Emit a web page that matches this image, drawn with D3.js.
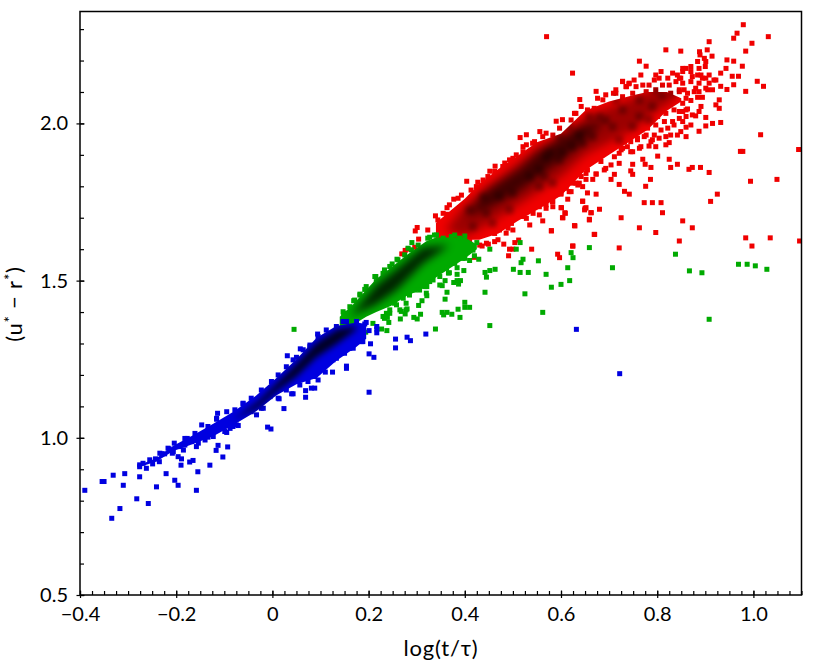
<!DOCTYPE html>
<html>
<head>
<meta charset="utf-8">
<style>
	body { margin: 0; background: #fff; }
	text { font-family: Lato, "Noto Sans", sans-serif; fill: #000; }
</style>
<script src="https://cdn.jsdelivr.net/npm/d3@7"></script>
</head>
<body>
<svg id="chart" width="830" height="664"></svg>
<script>
var xTicks = [-0.4, -0.2, 0, 0.2, 0.4, 0.6, 0.8, 1.0];
var yTicks = [0.5, 1.0, 1.5, 2.0];

var bluePoints = [[-0.390,0.833],[-0.350,0.861],[-0.354,0.861],[-0.331,0.881],[-0.307,0.886],[-0.310,0.849],[-0.334,0.744],[-0.317,0.775],[-0.282,0.806],[-0.258,0.791],[-0.276,0.876],[-0.241,0.844],[-0.221,0.886],[-0.203,0.865],[-0.196,0.849],[-0.158,0.833],[-0.155,0.892],[-0.190,0.913],[-0.172,0.923],[-0.165,0.928],[-0.130,0.913],[-0.103,0.939],[-0.117,0.960],[-0.113,0.976],[-0.093,0.971],[-0.010,1.034],[-0.003,1.028],[0.024,1.093],[0.069,1.129],[0.069,1.150],[0.081,1.158],[0.201,1.145],[0.110,1.209],[0.125,1.209],[0.154,1.221],[0.154,1.228],[0.211,1.256],[0.201,1.267],[0.204,1.299],[0.031,1.261],[0.058,1.283],[0.094,1.330],[0.201,1.341],[0.217,1.354],[0.217,1.334],[0.217,1.346],[0.256,1.314],[0.256,1.286],[0.280,1.320],[0.287,1.309],[0.319,1.330],[0.632,1.345],[0.722,1.204],[-0.276,0.908],[-0.269,0.919],[-0.262,0.903],[-0.249,0.917],[-0.243,0.933],[-0.235,0.924],[-0.230,0.949],[-0.224,0.949],[-0.215,0.965],[-0.208,0.951],[-0.204,0.983],[-0.196,0.940],[-0.189,0.933],[-0.185,0.961],[-0.177,0.998],[-0.158,0.972],[-0.147,1.041],[-0.134,1.002],[-0.123,1.004],[-0.114,1.078],[-0.116,1.059],[-0.095,1.017],[-0.071,1.039],[-0.088,1.030],[-0.061,1.110],[-0.033,1.073],[-0.019,1.094],[0.001,1.173],[0.014,1.124],[0.043,1.140],[0.050,1.256],[0.078,1.290],[0.088,1.158],[0.095,1.184],[0.126,1.248],[0.150,1.269],[0.168,1.285],[0.185,1.306],[0.147,1.370],[0.192,1.362],
	[0.064,1.189],[0.074,1.179],[0.088,1.195],[0.095,1.211],[0.105,1.232],[0.119,1.248],[0.133,1.253],[0.143,1.269],[0.161,1.285],[0.175,1.306],[0.188,1.306],[0.057,1.168],[0.040,1.140],[0.029,1.152],[0.012,1.126],[-0.005,1.131],[-0.023,1.094],[-0.044,1.083],[-0.061,1.078],[-0.075,1.041],[-0.082,1.036],[-0.099,1.020],[-0.113,1.030],[-0.140,0.993],[-0.154,0.983],[-0.168,0.988],[-0.182,0.977],[-0.192,0.972],[-0.206,0.956],
	[-0.276,0.914],[-0.255,0.930],[-0.234,0.951],[-0.217,0.967],[-0.182,0.998],[-0.161,1.014],[-0.134,1.036],[-0.116,1.062],[-0.095,1.083],[-0.078,1.089],[-0.061,1.108],[-0.044,1.126],[-0.023,1.152],[-0.002,1.179],[0.012,1.200],[0.029,1.226],[0.043,1.248],[0.064,1.280],[0.078,1.295],[0.095,1.322],[0.112,1.343],[0.133,1.354],[0.154,1.370],[0.175,1.370],[0.195,1.367]];
var blueBandX = [-0.275,-0.241,-0.206,-0.165,-0.123,-0.082,-0.033,0.0085,0.050,0.092,0.133,0.175,0.195];
var blueBandHigh = [0.915,0.935,0.975,1.008,1.045,1.082,1.135,1.190,1.250,1.318,1.356,1.367,1.362];
var blueBandLow = [0.908,0.925,0.958,0.980,1.005,1.040,1.085,1.135,1.170,1.190,1.245,1.290,1.315];
var blueCoreX = [-0.085,-0.03,0.01,0.05,0.09,0.135,0.175];
var blueCoreHigh = [1.055,1.115,1.175,1.235,1.300,1.345,1.355];
var blueCoreLow = [1.055,1.095,1.150,1.195,1.255,1.300,1.345];

// green
var greenPoints = [[0.290,1.621],[0.425,1.621],[0.515,1.621],[0.452,1.600],[0.507,1.600],[0.429,1.568],[0.410,1.564],[0.521,1.568],[0.517,1.557],[0.553,1.563],[0.659,1.605],[0.621,1.589],[0.625,1.573],[0.614,1.541],[0.384,1.541],[0.398,1.532],[0.463,1.536],[0.452,1.532],[0.442,1.526],[0.445,1.511],[0.501,1.536],[0.515,1.526],[0.532,1.526],[0.569,1.520],[0.618,1.500],[0.600,1.488],[0.580,1.479],[0.384,1.520],[0.368,1.525],[0.359,1.500],[0.384,1.500],[0.391,1.500],[0.377,1.494],[0.387,1.489],[0.353,1.484],[0.363,1.463],[0.442,1.463],[0.525,1.458],[0.359,1.441],[0.321,1.452],[0.311,1.436],[0.304,1.421],[0.400,1.431],[0.400,1.415],[0.410,1.415],[0.386,1.409],[0.353,1.399],[0.363,1.399],[0.356,1.391],[0.373,1.393],[0.390,1.383],[0.562,1.399],[0.452,1.357],[0.339,1.346],[0.308,1.393],[0.294,1.383],[0.301,1.378],[0.266,1.378],[0.276,1.394],[0.280,1.410],[0.242,1.367],[0.238,1.341],[0.227,1.346],[0.194,1.336],[0.239,1.383],[0.045,1.345],[0.707,1.541],[0.838,1.584],[0.867,1.531],[0.893,1.525],[0.969,1.552],[0.987,1.552],[1.004,1.547],[1.028,1.536],[0.908,1.377],[0.215,1.513],[0.233,1.534],[0.249,1.553],[0.259,1.568],[0.282,1.603],[0.327,1.638],[0.341,1.645],[0.379,1.645],[0.400,1.642],[0.182,1.457],[0.192,1.472],[0.169,1.436],[0.148,1.396],[0.420,1.579],[0.348,1.486],[0.334,1.502],[0.321,1.481],[0.278,1.407],[0.268,1.402],[0.254,1.428],[0.244,1.396],[0.233,1.380],[0.320,1.460],[0.296,1.470],[0.366,1.524],[0.396,1.571],
	[0.147,1.401],[0.161,1.417],[0.171,1.438],[0.182,1.454],[0.195,1.481],[0.213,1.513],[0.216,1.497],[0.230,1.523],[0.244,1.545],[0.261,1.566],[0.275,1.582],[0.289,1.598],[0.303,1.613],[0.323,1.635],[0.337,1.645],[0.355,1.635],[0.372,1.640],[0.389,1.635],
	[0.182,1.354],[0.209,1.364],[0.230,1.386],[0.244,1.407],[0.258,1.423],[0.272,1.444],[0.285,1.454],[0.306,1.470],[0.327,1.497],[0.348,1.513],[0.362,1.539],[0.379,1.555],[0.400,1.571],[0.417,1.597],[0.237,1.396],[0.265,1.407],[0.278,1.428],[0.317,1.481]];
var greenBandX = [0.140,0.168,0.195,0.216,0.247,0.278,0.320,0.340,0.400,0.425];
var greenBandHigh = [1.385,1.425,1.470,1.505,1.542,1.580,1.625,1.637,1.637,1.615];
var greenBandLow = [1.352,1.360,1.385,1.400,1.420,1.450,1.480,1.510,1.570,1.600];
var greenCoreX = [0.161,0.216,0.258,0.313,0.368];
var greenCoreHigh = [1.386,1.485,1.535,1.605,1.613];
var greenCoreLow = [1.386,1.425,1.470,1.555,1.613];

// red
var redPoints = [[0.562,1.690],[0.628,1.675],[0.659,1.693],[0.580,1.659],[0.669,1.647],[0.763,1.668],[0.797,1.653],[0.873,1.668],[0.853,1.690],[0.624,1.610],[0.721,1.604],[0.846,1.626],[0.984,1.636],[1.035,1.636],[0.997,1.610],[1.096,1.626],[0.593,1.584],[0.597,1.573],[0.979,2.314],[0.966,2.287],[0.959,2.271],[1.031,2.276],[0.997,2.255],[0.908,2.260],[0.984,2.230],[0.570,2.276],[0.818,2.234],[0.849,2.230],[0.904,2.234],[0.888,2.228],[0.889,2.218],[0.914,2.214],[0.763,2.198],[0.777,2.182],[0.945,2.202],[0.959,2.198],[0.977,2.182],[0.943,2.175],[0.932,2.160],[0.956,2.150],[0.969,2.150],[1.008,2.134],[1.021,2.118],[0.984,2.102],[0.959,2.123],[0.945,2.108],[0.932,2.118],[0.624,2.160],[0.728,2.134],[0.673,2.102],[0.639,2.076],[0.590,2.007],[0.603,2.012],[1.015,1.964],[0.973,1.911],[0.978,1.911],[1.094,1.917],[0.994,1.816],[1.049,1.822],[0.925,1.775],[0.911,1.752],[0.908,1.844],[0.890,1.860],[0.873,1.860],[0.866,1.854],[0.842,1.870],[0.828,1.860],[0.825,1.886],[0.801,1.896],[0.787,1.860],[0.786,1.822],[0.776,1.800],[0.773,1.748],[0.790,1.748],[0.808,1.748],[0.811,1.716],[0.725,1.700],[0.680,1.727],[0.662,1.716],[0.650,1.730],[0.645,1.752],[0.673,1.775],[0.655,1.779],[0.732,1.784],[0.742,1.775],[0.721,1.806],[0.749,1.838],[0.745,1.849],[0.749,1.870],[0.770,1.886],[0.775,1.870],[0.704,1.822],[0.711,1.838],[0.666,1.822],[0.603,1.700],[0.608,1.716],[0.600,1.732],[0.583,1.752],[0.583,1.735],[0.614,1.759],[0.870,2.181],[0.853,2.175],[0.860,2.175],[0.884,2.197],[0.898,2.207],[0.901,2.197],[0.887,2.175],[0.900,2.181],[0.870,2.165],[0.884,2.154],[0.908,2.154],[0.894,2.144],[0.918,2.138],[0.870,2.133],[0.887,2.128],[0.901,2.112],[0.915,2.107],[0.877,2.101],[0.863,2.096],[0.894,2.083],[0.870,2.073],[0.929,2.075],[0.922,2.059],[0.929,2.048],[0.891,2.054],[0.887,2.038],[0.901,2.019],[0.915,2.000],[0.932,2.003],[0.901,1.992],[0.887,1.975],[0.860,1.958],[0.842,1.963],[0.849,1.974],[0.860,1.988],[0.870,1.995],[0.880,2.024],[0.860,2.043],[0.846,2.038],[0.835,2.075],[0.846,2.107],[0.853,2.128],[0.846,2.144],[0.832,2.160],[0.808,2.165],[0.797,2.154],[0.794,2.138],[0.818,1.932],[0.825,1.939],[0.797,1.926],[0.783,1.928],[0.763,1.921],[0.745,1.910],[0.721,1.905],[0.728,1.921],[0.818,1.958],[0.790,1.948],[0.773,1.958],[0.759,1.948],[0.766,2.154],[0.752,2.138],[0.742,2.128],[0.735,2.117],[0.714,2.107],[0.693,2.091],[0.676,2.080],[0.642,2.054],[0.628,2.032],[0.621,2.011],[0.597,1.985],[0.569,1.969],[0.404,1.816],[0.377,1.759],[0.363,1.732],[0.363,1.711],[0.339,1.706],[0.301,1.669],[0.297,1.658],[0.304,1.632],[0.276,1.596],[0.269,1.585],[0.282,1.600],[0.296,1.606],[0.323,1.661],[0.344,1.693],[0.463,1.864],[0.452,1.848],[0.483,1.874],[0.515,1.955],[0.528,1.964],[0.556,1.974],[0.521,1.926],[0.541,1.937],[0.500,1.889],[0.427,1.813],[0.438,1.804],[0.580,1.658],[0.629,1.674],[0.670,1.647],[0.625,1.610],[0.539,1.600],[0.491,1.579],[0.420,1.574],[0.493,1.600],[0.500,1.600],[0.481,1.616],[0.449,1.616],[0.436,1.610],[0.504,1.621],[0.512,1.629],[0.535,1.677],[0.490,1.667],[0.497,1.682],[0.469,1.630],[0.462,1.650],[0.528,1.698],[0.555,1.709],[0.604,1.700],[0.609,1.714],[0.659,1.695],[0.663,1.716],[0.652,1.732],[0.649,1.725],[0.601,1.732],[0.582,1.751],[0.645,1.753],[0.621,1.783],[0.600,1.775],[0.652,1.822],[0.635,1.804],[0.638,1.847],[0.673,1.839],
	[0.728,2.133],[0.741,2.126],[0.736,2.117],[0.756,2.117],[0.714,2.096],[0.709,2.096],[0.687,2.075],[0.728,2.085],[0.749,2.096],[0.770,2.122],[0.783,2.122],[0.804,2.144],[0.822,2.144],[0.842,2.154],[0.849,2.144],[0.839,2.133],[0.825,2.122],[0.811,2.122],[0.797,2.107],[0.777,2.101],[0.763,2.080],[0.742,2.064],[0.728,2.059],[0.707,2.054],[0.687,2.048],[0.669,2.048],[0.655,2.043],[0.631,2.032],[0.680,2.032],[0.700,2.032],[0.725,2.032],[0.749,2.043],[0.777,2.069],[0.794,2.080],[0.811,2.091],[0.828,2.096],[0.846,2.101],[0.856,2.107],[0.860,2.080],[0.853,2.064],[0.839,2.075],[0.822,2.064],[0.804,2.054],[0.787,2.043],[0.770,2.032],[0.752,2.016],[0.735,2.006],[0.714,1.995],[0.697,1.985],[0.801,2.022],[0.818,2.032],[0.835,2.043],[0.853,2.038],[0.863,2.046],[0.860,2.022],[0.873,2.027],[0.846,2.016],[0.832,2.006],[0.815,2.006],[0.797,1.995],[0.780,1.985],[0.763,1.979],[0.742,1.974],[0.725,1.963],[0.707,1.953],[0.759,1.953],[0.777,1.963],[0.794,1.963],[0.808,1.979],[0.822,1.985],[0.835,1.995],[0.853,2.006],[0.828,1.963],[0.804,1.953],[0.787,1.942],[0.766,1.926],[0.749,1.910],[0.738,1.926],[0.725,1.916],[0.711,1.894],[0.721,1.873],[0.704,1.868],[0.690,1.852],[0.673,1.839],[0.655,1.852],[0.642,1.831],[0.645,1.799],[0.631,1.810],[0.617,1.783],[0.600,1.778],[0.576,1.778],[0.562,1.746],[0.569,1.730],[0.693,1.857],[0.683,1.879],[0.718,1.932],[0.732,1.942],[0.745,1.942],[0.887,2.101],[0.884,2.083],[0.908,2.128],[0.873,2.149],[0.853,2.165],[0.905,2.107],[0.880,2.112],[0.891,2.154],[0.901,2.144],[0.922,2.138],
	[0.355,1.714],[0.368,1.741],[0.386,1.762],[0.393,1.772],[0.413,1.788],[0.424,1.799],[0.438,1.820],[0.448,1.831],[0.462,1.847],[0.479,1.863],[0.493,1.884],[0.507,1.900],[0.521,1.910],[0.528,1.932],[0.545,1.942],[0.562,1.958],[0.583,1.963],
	[0.431,1.613],[0.445,1.619],[0.462,1.624],[0.486,1.651],[0.500,1.661],[0.472,1.661],[0.521,1.704],[0.542,1.714],[0.555,1.735],[0.569,1.741],[0.583,1.767],[0.597,1.778],[0.611,1.794],[0.625,1.810],[0.652,1.841],[0.389,1.629],[0.410,1.624],[0.514,1.709],[0.548,1.741],[0.597,1.799],[0.618,1.831],[0.638,1.810]];
var redBandX = [0.340,0.370,0.400,0.430,0.470,0.510,0.550,0.600,0.650,0.700,0.750,0.780,0.820,0.850];
var redBandHigh = [1.683,1.722,1.760,1.807,1.855,1.897,1.940,1.967,2.040,2.070,2.090,2.100,2.100,2.080];
var redBandLow = [1.635,1.630,1.630,1.630,1.650,1.690,1.725,1.770,1.850,1.900,1.950,1.980,2.040,2.070];
var redMidX = [0.36,0.40,0.45,0.50,0.55,0.60,0.65,0.70,0.75,0.80,0.84];
var redMidHigh = [1.66,1.74,1.80,1.86,1.92,1.96,2.02,2.05,2.08,2.11,2.09];
var redMidLow = [1.66,1.64,1.68,1.73,1.78,1.83,1.90,1.94,1.98,2.04,2.08];
var redCoreX = [0.40,0.445,0.514,0.555,0.611,0.640,0.693];
var redCoreHigh = [1.70,1.787,1.855,1.913,1.965,1.990,2.01];
var redCoreLow = [1.70,1.727,1.785,1.833,1.895,1.930,2.01];
// darker blotches inside the red cloud
var redBlotches = [[0.638,1.963],[0.603,1.905],[0.576,1.905],[0.597,1.884],[0.555,1.852],[0.645,1.937],[0.693,2.011],[0.728,2.043],[0.811,2.091],[0.790,2.054],[0.666,1.958],[0.624,1.926],[0.565,1.831],[0.583,1.810],[0.714,2.075],[0.763,2.075],[0.680,2.022],[0.749,1.990],[0.783,2.011],[0.832,2.096],[0.797,2.107],[0.707,1.990],[0.763,2.022],[0.721,1.947],[0.617,1.990],[0.597,1.958],[0.659,2.022],[0.569,1.894],[0.445,1.714],[0.472,1.767],[0.417,1.672],[0.500,1.778],[0.535,1.831],[0.458,1.682],[0.410,1.725],[0.493,1.725],[0.555,1.799],[0.438,1.767]];

var svg = d3.select("#chart");
var left = 80, right = 801.5, top_ = 11.5, bottom = 595;

var x = d3.scaleLinear().domain([-0.4, 1.1]).range([left, right]);
var y = d3.scaleLinear().domain([0.5, 2.356]).range([bottom, top_]);

var defs = svg.append("defs");
defs.append("clipPath").attr("id", "plotClip").append("rect")
	.attr("x", left).attr("y", top_)
	.attr("width", right - left).attr("height", bottom - top_);
[2, 3, 4, 5].forEach(function(s) {
	defs.append("filter").attr("id", "blur" + s)
		.attr("filterUnits", "userSpaceOnUse")
		.attr("x", 0).attr("y", 0).attr("width", 830).attr("height", 664)
		.append("feGaussianBlur").attr("stdDeviation", s);
});

var plot = svg.append("g").attr("clip-path", "url(#plotClip)");

function band(g, xs, highs, lows) {
	var area = d3.area()
		.x(function(d) { return x(d); })
		.y0(function(d, i) { return y(lows[i]); })
		.y1(function(d, i) { return y(highs[i]); });
	return g.append("path").datum(xs).attr("d", area);
}

function squares(g, pts, size) {
	return g.selectAll("rect").data(pts).enter().append("rect")
		.attr("x", function(d) { return x(d[0]) - size / 2; })
		.attr("y", function(d) { return y(d[1]) - size / 2; })
		.attr("width", size)
		.attr("height", size);
}

// body + points in one colour; returns a group for the dark overlay, masked to that shape
function cloud(name, color, pts, xs, highs, lows) {
	var g = plot.append("g").attr("fill", color);
	band(g, xs, highs, lows);
	squares(g.append("g"), pts, 5);
	var m = defs.append("mask").attr("id", "mask-" + name)
		.attr("maskUnits", "userSpaceOnUse")
		.attr("x", 0).attr("y", 0).attr("width", 830).attr("height", 664)
		.append("g").attr("fill", "#fff");
	band(m, xs, highs, lows);
	squares(m.append("g"), pts, 5);
	return g.append("g").attr("mask", "url(#mask-" + name + ")").attr("fill", "#000");
}

// red goes first, green sits on it, blue on top of both
var redDark = cloud("red", "#f00000", redPoints, redBandX, redBandHigh, redBandLow);
band(redDark, redMidX, redMidHigh, redMidLow).attr("opacity", 0.35).attr("filter", "url(#blur5)");
squares(redDark.append("g").attr("opacity", 0.28).attr("filter", "url(#blur2)"), redBlotches, 8);
band(redDark, redCoreX, redCoreHigh, redCoreLow).attr("opacity", 0.6).attr("filter", "url(#blur5)");

var greenDark = cloud("green", "#00aa00", greenPoints, greenBandX, greenBandHigh, greenBandLow);
band(greenDark, greenCoreX, greenCoreHigh, greenCoreLow).attr("opacity", 0.8).attr("filter", "url(#blur4)");

var blueDark = cloud("blue", "#0000e0", bluePoints, blueBandX, blueBandHigh, blueBandLow);
band(blueDark, blueCoreX, blueCoreHigh, blueCoreLow).attr("opacity", 0.85).attr("filter", "url(#blur3)");

// frame
svg.append("rect")
	.attr("x", left).attr("y", top_)
	.attr("width", right - left).attr("height", bottom - top_)
	.attr("fill", "none").attr("stroke", "#000").attr("stroke-width", 1.5);

// Axes
var fmtX = function(d) { return d === 0 ? "0" : d3.format(".1f")(d); };
var xMajor = d3.axisBottom(x).tickValues(xTicks).tickSize(-4.5).tickPadding(12).tickFormat(fmtX);
var xMinor = d3.axisBottom(x).tickValues(d3.range(-0.4, 1.1001, 0.025)).tickSize(-4).tickFormat("");
var yMajor = d3.axisLeft(y).tickValues(yTicks).tickSize(-4.5).tickPadding(12).tickFormat(d3.format(".1f"));
var yMinor = d3.axisLeft(y).tickValues(d3.range(0.5, 2.3501, 0.1)).tickSize(-4).tickFormat("");

var gx = svg.append("g").attr("transform", "translate(0," + bottom + ")");
gx.append("g").call(xMinor);
var gxM = gx.append("g").call(xMajor);
gxM.selectAll("line").attr("y1", 3);
var gy = svg.append("g").attr("transform", "translate(" + left + ",0)");
gy.append("g").call(yMinor);
var gyM = gy.append("g").call(yMajor);
gyM.selectAll("line").attr("x1", -3.5);

svg.selectAll(".domain").remove();
svg.selectAll(".tick line").attr("stroke", "#000").attr("stroke-width", 1.2);
svg.selectAll(".tick text").style("font-size", "20px").style("font-family", "Lato, sans-serif");

// Axis titles
svg.append("text")
	.attr("x", 441).attr("y", 656)
	.attr("text-anchor", "middle")
	.style("font-size", "22px")
	.style("letter-spacing", "0.8px")
	.text("log(t/τ)");

var yLabel = svg.append("text")
	.attr("transform", "translate(22,304) rotate(-90)")
	.attr("text-anchor", "middle")
	.style("font-size", "22px")
	.style("letter-spacing", "0.8px");
yLabel.append("tspan").text("(u");
yLabel.append("tspan").attr("dy", -7).style("font-size", "15px").text("*");
yLabel.append("tspan").attr("dy", 7).text(" − r");
yLabel.append("tspan").attr("dy", -7).style("font-size", "15px").text("*");
yLabel.append("tspan").attr("dy", 7).text(")");
</script>
</body>
</html>
